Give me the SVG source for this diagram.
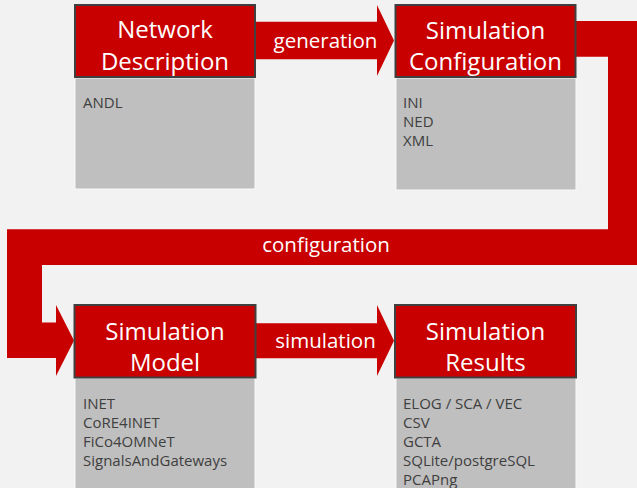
<svg xmlns="http://www.w3.org/2000/svg" width="637" height="488" viewBox="0 0 637 488">
  <style>
    .hdr { fill: #c80000; stroke: #404040; stroke-width: 2; }
    .body { fill: #bfbfbf; stroke: #f8f8f8; stroke-width: 1; }
    .flow { fill: #c80000; }
    .title { font-family: "Open Sans", "Noto Sans", sans-serif; font-size: 24px; fill: #ffffff; text-anchor: middle; }
    .item { font-family: "Open Sans", "Noto Sans", sans-serif; font-size: 15px; fill: #404040; }
    .lbl { font-family: "Open Sans", "Noto Sans", sans-serif; font-size: 20.5px; fill: #ffffff; text-anchor: middle; }
  </style>
  <rect width="637" height="488" fill="#f2f2f2"/>

  <!-- connectors, drawn under the node headers -->
  <g id="connectors">
    <g id="generation">
      <polygon class="flow" points="250,21.7 377,21.7 377,5 394,40.5 377,76 377,59.3 250,59.3"/>
      <text class="lbl" x="325.5" y="47.5">generation</text>
    </g>
    <g id="configuration">
      <polygon class="flow" points="570,21 637,21 637,265 42,265 42,322.5 56,322.5 56,305 74,340.5 56,376 56,358 7,358 7,229.3 608,229.3 608,56.7 570,56.7"/>
      <text class="lbl" x="326" y="252.3">configuration</text>
    </g>
    <g id="simulation">
      <polygon class="flow" points="250,323.3 377,323.3 377,305 394,340.8 377,376 377,358.3 250,358.3"/>
      <text class="lbl" x="325.5" y="348.3">simulation</text>
    </g>
  </g>

  <g id="network-description">
    <rect class="body" x="75" y="78" width="180" height="111"/>
    <rect class="hdr" x="75" y="5" width="180" height="72"/>
    <text class="title" x="165" y="38">Network</text>
    <text class="title" x="165" y="70">Description</text>
    <text class="item" x="83" y="107.7">ANDL</text>
  </g>

  <g id="simulation-configuration">
    <rect class="body" x="396" y="78" width="180" height="112"/>
    <rect class="hdr" x="395.5" y="5" width="180" height="72"/>
    <text class="title" x="485.5" y="39">Simulation</text>
    <text class="title" x="485.5" y="70">Configuration</text>
    <text class="item" x="403" y="107.7">INI</text>
    <text class="item" x="403" y="126.7">NED</text>
    <text class="item" x="403" y="145.7">XML</text>
  </g>

  <g id="simulation-model">
    <rect class="body" x="75" y="378" width="180" height="115"/>
    <rect class="hdr" x="74.5" y="305" width="181" height="72.5"/>
    <text class="title" x="165" y="340">Simulation</text>
    <text class="title" x="165" y="371">Model</text>
    <text class="item" x="83" y="409">INET</text>
    <text class="item" x="83" y="427.8">CoRE4INET</text>
    <text class="item" x="83" y="446.7">FiCo4OMNeT</text>
    <text class="item" x="83" y="465.7">SignalsAndGateways</text>
  </g>

  <g id="simulation-results">
    <rect class="body" x="396" y="378" width="180" height="115"/>
    <rect class="hdr" x="395" y="305" width="181" height="72.5"/>
    <text class="title" x="485.5" y="340">Simulation</text>
    <text class="title" x="485.5" y="371">Results</text>
    <text class="item" x="403" y="409">ELOG / SCA / VEC</text>
    <text class="item" x="403" y="427.8">CSV</text>
    <text class="item" x="403" y="446.7">GCTA</text>
    <text class="item" x="403" y="465.7">SQLite/postgreSQL</text>
    <text class="item" x="403" y="484.5">PCAPng</text>
  </g>
</svg>
